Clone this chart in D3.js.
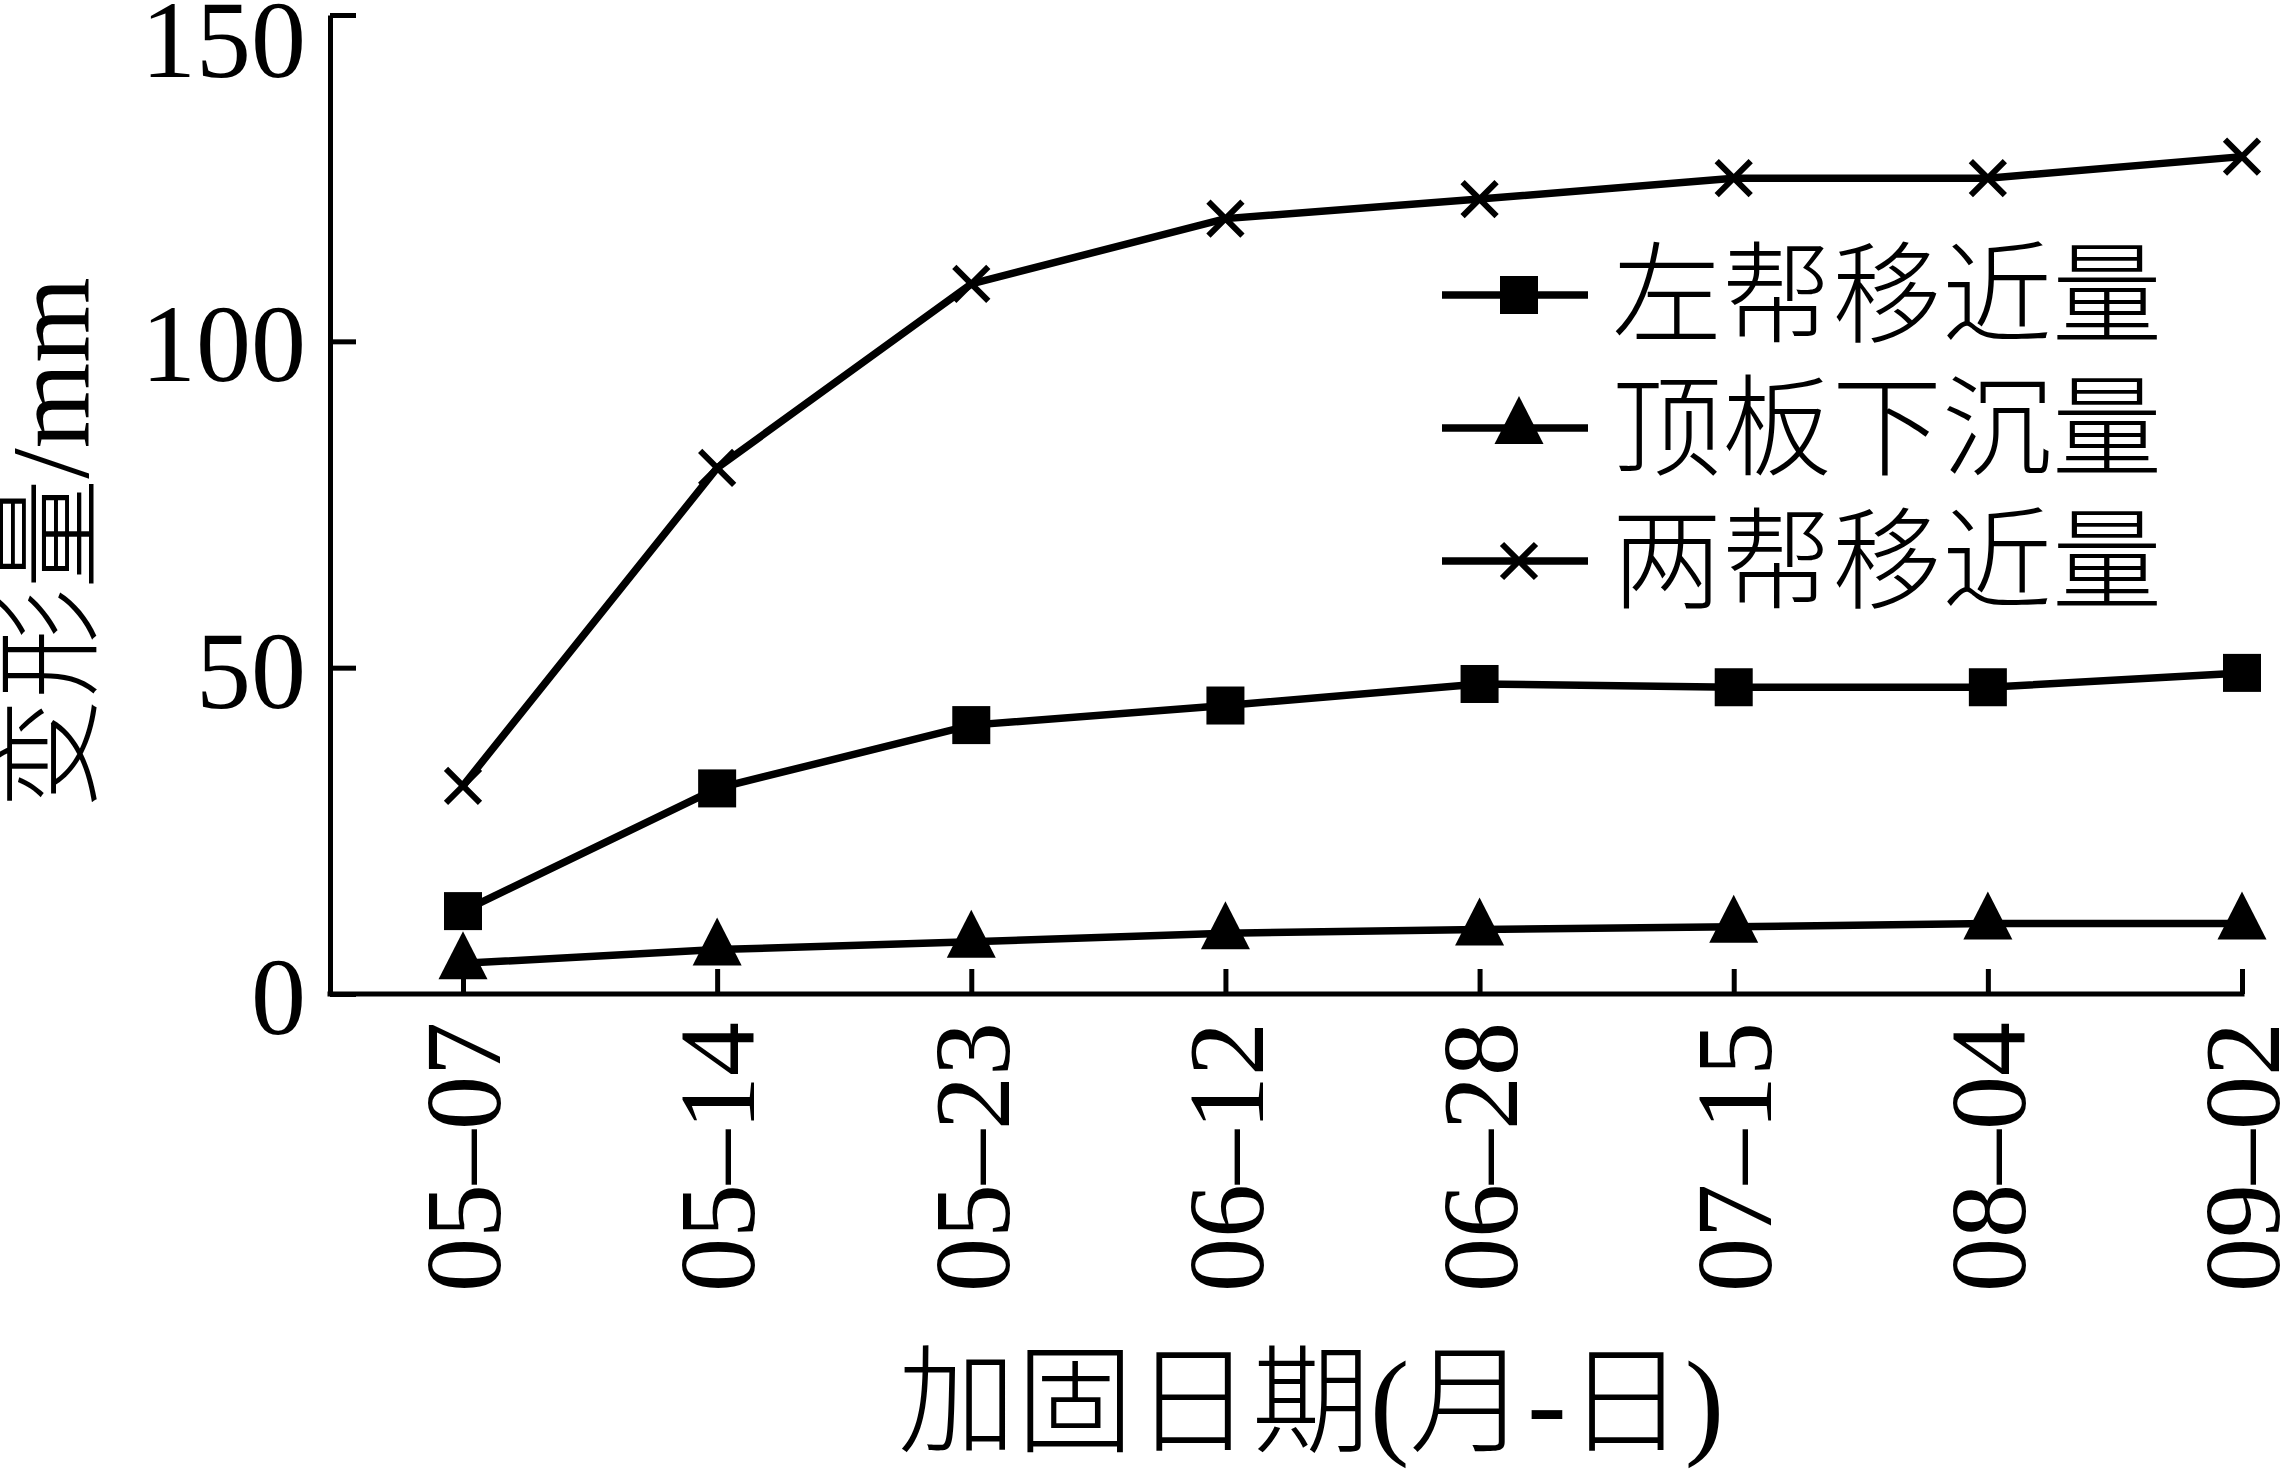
<!DOCTYPE html>
<html>
<head>
<meta charset="utf-8">
<script src="https://cdn.jsdelivr.net/npm/d3@7/dist/d3.min.js"></script>
<style>
  html, body { margin: 0; padding: 0; background: #fff; }
  svg { display: block; }
</style>
</head>
<body>
<script>
// ---- data ----
const categories = ["05-07", "05-14", "05-23", "06-12", "06-28", "07-15", "08-04", "09-02"];
const leftWall  = [12.7, 31.5, 41.2, 44.2, 47.5, 47.0, 47.0, 49.2];   // 左帮移近量 (■)
const roofSag   = [4.7, 6.8, 8.0, 9.3, 9.9, 10.3, 10.8, 10.8];        // 顶板下沉量 (▲)
const bothWalls = [31.9, 80.6, 108.8, 118.8, 121.8, 125.0, 125.0, 128.3]; // 两帮移近量 (×)
const seriesNames = ["左帮移近量", "顶板下沉量", "两帮移近量"];
const seriesMarkers = ["square", "triangle", "cross"];
const yTicks = [0, 50, 100, 150];
const xTitle = "加固日期(月-日)";
const yTitle = "变形量/mm";

// ---- layout ----
const W = 2285, H = 1472;
const serif = "'Liberation Serif', 'Times New Roman', 'Noto Sans CJK SC', serif";

const svg = d3.select("body").append("svg")
  .attr("width", W).attr("height", H)
  .attr("viewBox", `0 0 ${W} ${H}`);
svg.append("rect").attr("width", W).attr("height", H).attr("fill", "#fff");

const x = d3.scalePoint().domain(categories).range([463, 2242]);
const y = d3.scaleLinear().domain([0, 150]).range([994, 15]);

// ---- axes ----
const yAxis = svg.append("g")
  .attr("transform", "translate(330,0)")
  .call(d3.axisLeft(y).tickValues(yTicks).tickSizeInner(-26).tickSizeOuter(0).tickPadding(24));
yAxis.select(".domain").attr("stroke", "#000").attr("stroke-width", 5);
yAxis.selectAll(".tick line").attr("stroke", "#000").attr("stroke-width", 5);
yAxis.selectAll(".tick text")
  .attr("font-family", serif).attr("font-size", 110).attr("fill", "#000")
  .attr("dy", d => d === 150 ? "0.56em" : "0.36em");

const xAxis = svg.append("g")
  .attr("transform", "translate(0,994)")
  .call(d3.axisBottom(x).tickSizeInner(-25).tickSizeOuter(0));
xAxis.select(".domain").attr("d", "M327.5,0H2244.5").attr("stroke", "#000").attr("stroke-width", 5);
xAxis.selectAll(".tick line").attr("stroke", "#000").attr("stroke-width", 5);
xAxis.selectAll(".tick text")
  .text(d => d.replace("-", "\u2013"))
  .attr("font-family", serif).attr("font-size", 108).attr("fill", "#000")
  .attr("transform", "rotate(-90)")
  .attr("text-anchor", "end")
  .attr("x", -28).attr("y", 0).attr("dy", "0.34em");

// ---- titles ----
svg.append("text")
  .attr("x", 1311).attr("y", 1443)
  .attr("text-anchor", "middle")
  .attr("font-family", serif).attr("font-size", 118).attr("font-weight", 300)
  .attr("fill", "#000")
  .text(xTitle);

svg.append("text")
  .attr("transform", "translate(88,543) rotate(-90)")
  .attr("text-anchor", "middle")
  .attr("font-family", serif).attr("font-size", 110).attr("font-weight", 300)
  .attr("fill", "#000")
  .text(yTitle);

// ---- markers ----
function drawMarker(g, type) {
  if (type === "square") {
    g.append("rect").attr("x", -19).attr("y", -19).attr("width", 38).attr("height", 38).attr("fill", "#000");
  } else if (type === "triangle") {
    g.append("path").attr("d", "M0,-32L24.5,16L-24.5,16Z").attr("fill", "#000");
  } else {
    g.append("path").attr("d", "M-17,-17L17,17M-17,17L17,-17")
      .attr("stroke", "#000").attr("stroke-width", 6).attr("fill", "none");
  }
}

const seriesData = [leftWall, roofSag, bothWalls];
const line = d3.line().x((d, i) => x(categories[i])).y(d => y(d));

seriesData.forEach((vals, si) => {
  svg.append("path")
    .attr("d", line(vals))
    .attr("fill", "none").attr("stroke", "#000").attr("stroke-width", 7.5)
    .attr("stroke-linejoin", "miter");
  vals.forEach((v, i) => {
    const g = svg.append("g").attr("transform", `translate(${x(categories[i])},${y(v)})`);
    drawMarker(g, seriesMarkers[si]);
  });
});

// ---- legend ----
const ly = d3.scalePoint().domain(seriesNames).range([295, 561]);
seriesNames.forEach((name, si) => {
  const yy = ly(name);
  svg.append("line").attr("x1", 1442).attr("x2", 1588).attr("y1", yy).attr("y2", yy)
    .attr("stroke", "#000").attr("stroke-width", 7.5);
  const g = svg.append("g").attr("transform", `translate(1519,${yy})`);
  drawMarker(g, seriesMarkers[si]);
  svg.append("text")
    .attr("x", 1612).attr("y", yy).attr("dy", "0.35em")
    .attr("font-family", serif).attr("font-size", 110).attr("font-weight", 300)
    .attr("fill", "#000")
    .text(name);
});
</script>
</body>
</html>
